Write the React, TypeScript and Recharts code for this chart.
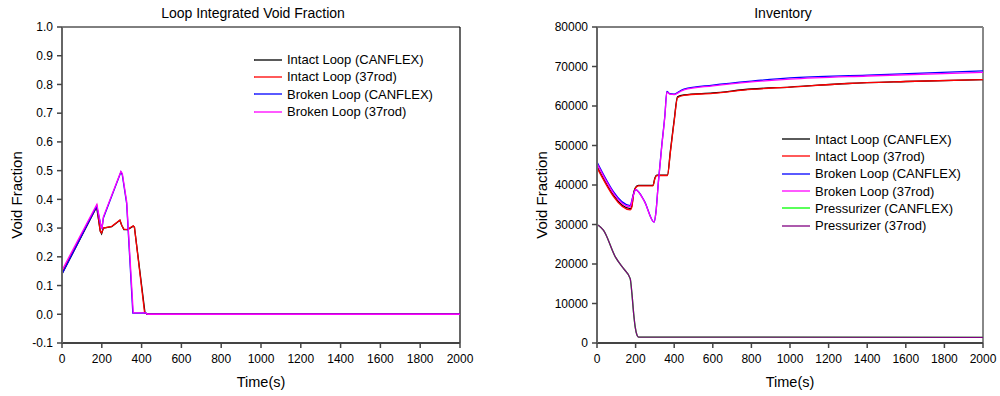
import React from 'react';
import { LineChart, Line, XAxis, YAxis, ReferenceLine, Legend } from 'recharts';

// ---------- Time axis ----------
const timeTicks = [0, 200, 400, 600, 800, 1000, 1200, 1400, 1600, 1800, 2000];

// ---------- Series names / colours ----------
const loopNames = ['Intact Loop (CANFLEX)', 'Intact Loop (37rod)', 'Broken Loop (CANFLEX)', 'Broken Loop (37rod)'];
const invNames = [...loopNames, 'Pressurizer (CANFLEX)', 'Pressurizer (37rod)'];
const seriesColors = ['#000000', '#ff0000', '#0000ff', '#ff00ff', '#00ff00', '#800080'];

// ---------- Left chart: Loop Integrated Void Fraction ----------
const vfTicks = [-0.1, 0, 0.1, 0.2, 0.3, 0.4, 0.5, 0.6, 0.7, 0.8, 0.9, 1.0];

const vfIntactCanflexT = [0, 174, 192, 199, 208, 250, 291, 300, 311, 330, 342, 358, 364, 417, 430, 2000];
const vfIntactCanflexV = [0.14, 0.374, 0.29, 0.28, 0.3, 0.305, 0.327, 0.31, 0.295, 0.295, 0.3, 0.307, 0.303, 0.005, 0, 0];

const vfIntact37T = [0, 175, 192, 199, 208, 250, 291, 300, 311, 330, 342, 358, 364, 415, 430, 2000];
const vfIntact37V = [0.145, 0.378, 0.29, 0.283, 0.3, 0.306, 0.328, 0.31, 0.296, 0.295, 0.301, 0.308, 0.303, 0.006, 0, 0];

const vfBrokenCanflexT = [0, 174, 195, 201, 208, 296, 303, 325, 356, 420, 432, 2000];
const vfBrokenCanflexV = [0.14, 0.376, 0.31, 0.3, 0.335, 0.495, 0.485, 0.385, 0.004, 0.005, 0, 0];

const vfBroken37T = [0, 175, 195, 201, 208, 296, 303, 325, 358, 420, 432, 2000];
const vfBroken37V = [0.153, 0.382, 0.31, 0.298, 0.339, 0.497, 0.49, 0.392, 0.005, 0.005, 0, 0];

// ---------- Right chart: Inventory ----------
const invTicks = [0, 10000, 20000, 30000, 40000, 50000, 60000, 70000, 80000];

const invIntactCanflexT = [0, 172, 180, 190, 200, 215, 290, 300, 310, 365, 380, 400, 417, 450, 600, 800, 1000, 1300, 1600, 2000];
const invIntactCanflexV = [44700, 34000, 34600, 38000, 39400, 39900, 39900, 41800, 42500, 42500, 48500, 56500, 62300, 62800, 63300, 64300, 64800, 65700, 66200, 66700];

const invIntact37T = [0, 172, 180, 190, 200, 215, 290, 300, 310, 365, 380, 400, 417, 450, 600, 800, 1000, 1300, 1600, 2000];
const invIntact37V = [44400, 33700, 34300, 37800, 39300, 39800, 39800, 41600, 42400, 42400, 48200, 56200, 62100, 62700, 63200, 64200, 64800, 65700, 66200, 66700];

const invBrokenCanflexT = [0, 172, 185, 200, 245, 296, 305, 318, 335, 352, 362, 378, 400, 430, 450, 600, 800, 1000, 1400, 2000];
const invBrokenCanflexV = [45800, 34800, 37000, 38800, 36000, 30600, 33000, 40800, 49700, 57800, 63700, 63100, 63000, 63800, 64300, 65300, 66300, 67100, 67800, 68900];

const invBroken37T = [0, 172, 185, 200, 245, 296, 305, 318, 335, 352, 362, 378, 400, 430, 450, 600, 800, 1000, 1400, 2000];
const invBroken37V = [45400, 34500, 36800, 38800, 35900, 30600, 32800, 40600, 49500, 57600, 63500, 63000, 62900, 63600, 64100, 65100, 66100, 66800, 67600, 68500];

const invPressCanflexT = [0, 10, 34, 95, 138, 172, 181, 190, 198, 207, 215, 2000];
const invPressCanflexV = [30000, 29700, 28500, 21800, 18800, 16300, 12500, 7400, 4000, 2000, 1500, 1400];

const invPress37T = [0, 10, 34, 95, 138, 172, 181, 190, 198, 207, 215, 2000];
const invPress37V = [30000, 29700, 28500, 21800, 18800, 16300, 12500, 7400, 4000, 2000, 1500, 1400];

const zip = (t: number[], v: number[]) => t.map((x, i) => ({ t: x, v: v[i] }));

const FONT = '"Liberation Sans", Arial, sans-serif';

const makeLegend = (names: string[]) => () => (
  <div style={{ fontFamily: FONT, fontSize: 13, color: '#000' }}>
    {names.map((n, i) => (
      <div key={n} style={{ display: 'flex', alignItems: 'center', height: 17.3, whiteSpace: 'nowrap' }}>
        <svg width={30} height={4} style={{ marginRight: 3 }}>
          <line x1={0} y1={2} x2={28} y2={2} stroke={seriesColors[i]} strokeWidth={1.3} />
        </svg>
        <span>{n}</span>
      </div>
    ))}
  </div>
);

const yLabel = (cx: number, cy: number) => (props: any) => (
  <text
    x={cx}
    y={cy}
    transform={`rotate(-90, ${cx}, ${cy})`}
    textAnchor="middle"
    dominantBaseline="central"
    fontFamily={FONT}
    fontSize={15}
    fill="#000"
  >
    Void Fraction
  </text>
);

const xLabel = (props: any) => {
  const vb = props.viewBox || {};
  const cx = vb.x + vb.width / 2;
  return (
    <text x={cx} y={vb.y + 44} textAnchor="middle" fontFamily={FONT} fontSize={14.5} fill="#000">
      Time(s)
    </text>
  );
};

const tickStyle = { fontFamily: FONT, fontSize: 12, fill: '#000' };

export default function App() {
  return (
    <div style={{ position: 'absolute', left: 0, top: 0, width: 1000, height: 396, background: '#fff', fontFamily: FONT }}>
      <div style={{ position: 'absolute', left: 0, top: 5.5, width: 506, textAlign: 'center', fontSize: 14, lineHeight: '14px' }}>
        Loop Integrated Void Fraction
      </div>
      <div style={{ position: 'absolute', left: 530, top: 5.5, width: 506, textAlign: 'center', fontSize: 14, lineHeight: '14px' }}>
        Inventory
      </div>

      <div style={{ position: 'absolute', left: 0, top: 0 }}>
        <LineChart width={490} height={396} margin={{ top: 27, right: 30, bottom: 23, left: 22 }}>
          <XAxis
            dataKey="t"
            type="number"
            domain={[0, 2000]}
            ticks={timeTicks}
            interval={0}
            height={30}
            tick={tickStyle}
            tickSize={5}
            tickMargin={6}
            axisLine={{ stroke: '#444', strokeWidth: 2 }}
            tickLine={{ stroke: '#444', strokeWidth: 1.5 }}
            label={{ content: xLabel }}
          />
          <YAxis
            type="number"
            domain={[-0.1, 1.0]}
            ticks={vfTicks}
            interval={0}
            width={40}
            allowDataOverflow
            tickFormatter={(v: number) => v.toFixed(1)}
            tick={tickStyle}
            tickSize={5}
            tickMargin={4}
            axisLine={{ stroke: '#666', strokeWidth: 2 }}
            tickLine={{ stroke: '#444', strokeWidth: 1.5 }}
            label={{ content: yLabel(16, 195) }}
          />
          <ReferenceLine y={1.0} stroke="#000" strokeWidth={1} />
          <ReferenceLine x={2000} stroke="#000" strokeWidth={1.2} />
          <Line data={zip(vfIntactCanflexT, vfIntactCanflexV)} dataKey="v" name={loopNames[0]} stroke={seriesColors[0]} strokeWidth={1.3} dot={false} type="linear" isAnimationActive={false} />
          <Line data={zip(vfIntact37T, vfIntact37V)} dataKey="v" name={loopNames[1]} stroke={seriesColors[1]} strokeWidth={1.3} dot={false} type="linear" isAnimationActive={false} />
          <Line data={zip(vfBrokenCanflexT, vfBrokenCanflexV)} dataKey="v" name={loopNames[2]} stroke={seriesColors[2]} strokeWidth={1.3} dot={false} type="linear" isAnimationActive={false} />
          <Line data={zip(vfBroken37T, vfBroken37V)} dataKey="v" name={loopNames[3]} stroke={seriesColors[3]} strokeWidth={1.3} dot={false} type="linear" isAnimationActive={false} />
          <Legend
            layout="vertical"
            align="center"
            verticalAlign="middle"
            content={makeLegend(loopNames)}
            wrapperStyle={{ left: 254, top: 51, width: 210, height: 72 }}
          />
        </LineChart>
      </div>

      <div style={{ position: 'absolute', left: 530, top: 0 }}>
        <LineChart width={470} height={396} margin={{ top: 27, right: 17, bottom: 23, left: 22 }}>
          <XAxis
            dataKey="t"
            type="number"
            domain={[0, 2000]}
            ticks={timeTicks}
            interval={0}
            height={30}
            tick={tickStyle}
            tickSize={5}
            tickMargin={6}
            axisLine={{ stroke: '#444', strokeWidth: 2 }}
            tickLine={{ stroke: '#444', strokeWidth: 1.5 }}
            label={{ content: xLabel }}
          />
          <YAxis
            type="number"
            domain={[0, 80000]}
            ticks={invTicks}
            interval={0}
            width={45}
            allowDataOverflow
            tick={tickStyle}
            tickSize={5}
            tickMargin={4}
            axisLine={{ stroke: '#666', strokeWidth: 2 }}
            tickLine={{ stroke: '#444', strokeWidth: 1.5 }}
            label={{ content: yLabel(11, 195) }}
          />
          <ReferenceLine y={80000} stroke="#000" strokeWidth={1} />
          <ReferenceLine x={2000} stroke="#888" strokeWidth={2} />
          <Line data={zip(invIntactCanflexT, invIntactCanflexV)} dataKey="v" name={invNames[0]} stroke={seriesColors[0]} strokeWidth={1.3} dot={false} type="monotone" isAnimationActive={false} />
          <Line data={zip(invIntact37T, invIntact37V)} dataKey="v" name={invNames[1]} stroke={seriesColors[1]} strokeWidth={1.3} dot={false} type="monotone" isAnimationActive={false} />
          <Line data={zip(invBrokenCanflexT, invBrokenCanflexV)} dataKey="v" name={invNames[2]} stroke={seriesColors[2]} strokeWidth={1.3} dot={false} type="monotone" isAnimationActive={false} />
          <Line data={zip(invBroken37T, invBroken37V)} dataKey="v" name={invNames[3]} stroke={seriesColors[3]} strokeWidth={1.3} dot={false} type="monotone" isAnimationActive={false} />
          <Line data={zip(invPressCanflexT, invPressCanflexV)} dataKey="v" name={invNames[4]} stroke={seriesColors[4]} strokeWidth={1.3} dot={false} type="monotone" isAnimationActive={false} />
          <Line data={zip(invPress37T, invPress37V)} dataKey="v" name={invNames[5]} stroke={seriesColors[5]} strokeWidth={1.3} dot={false} type="monotone" isAnimationActive={false} />
          <Legend
            layout="vertical"
            align="center"
            verticalAlign="middle"
            content={makeLegend(invNames)}
            wrapperStyle={{ left: 252, top: 130.5, width: 210, height: 104 }}
          />
        </LineChart>
      </div>
    </div>
  );
}
